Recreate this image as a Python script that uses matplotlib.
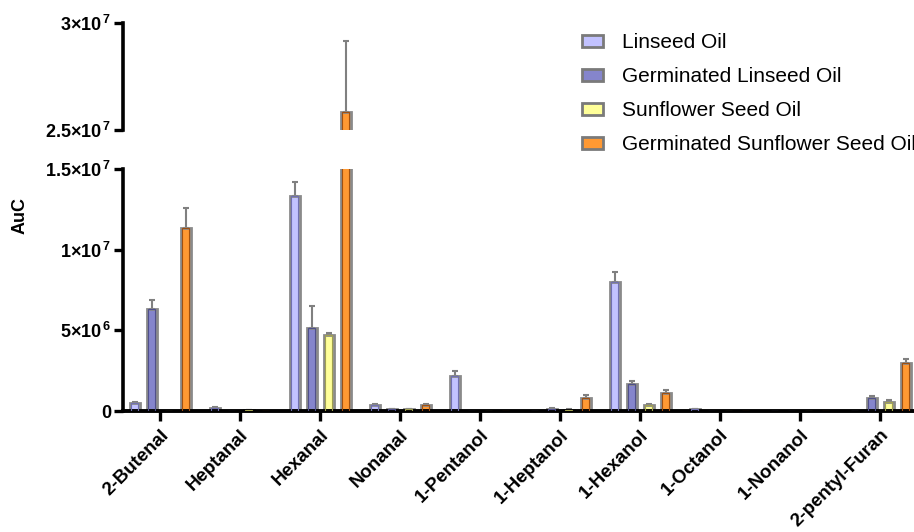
import numpy as np
import matplotlib
matplotlib.use("Agg")
import matplotlib.pyplot as plt
from matplotlib.patches import Patch

plt.rcParams['font.family'] = ['Liberation Sans', 'DejaVu Sans']
plt.rcParams['mathtext.fontset'] = 'custom'
plt.rcParams['mathtext.rm'] = 'Liberation Sans:bold'
plt.rcParams['mathtext.bf'] = 'Liberation Sans:bold'
plt.rcParams['mathtext.it'] = 'Liberation Sans:bold'

# data
categories = ['2-Butenal', 'Heptanal', 'Hexanal', 'Nonanal', '1-Pentanol',
              '1-Heptanol', '1-Hexanol', '1-Octanol', '1-Nonanol', '2-pentyl-Furan']
series_names = ['Linseed Oil', 'Germinated Linseed Oil', 'Sunflower Seed Oil',
                'Germinated Sunflower Seed Oil']
linseed = [0.5e6, 0.2e6, 13.3e6, 0.35e6, 2.2e6, 0.02e6, 8.0e6, 0.1e6, 0.01e6, 0]
linseed_err = [0.08e6, 0.06e6, 0.9e6, 0.08e6, 0.3e6, 0, 0.6e6, 0.05e6, 0, 0]
germ_linseed = [6.3e6, 0, 5.15e6, 0.1e6, 0, 0.1e6, 1.65e6, 0.03e6, 0.01e6, 0.8e6]
germ_linseed_err = [0.6e6, 0, 1.35e6, 0.03e6, 0, 0.1e6, 0.2e6, 0, 0, 0.1e6]
sunflower = [0, 0.05e6, 4.7e6, 0.12e6, 0, 0.05e6, 0.35e6, 0, 0, 0.55e6]
sunflower_err = [0, 0.03e6, 0.15e6, 0.03e6, 0, 0.05e6, 0.08e6, 0, 0, 0.15e6]
germ_sunflower = [11.35e6, 0, 25.85e6, 0.35e6, 0, 0.8e6, 1.1e6, 0, 0, 3.0e6]
germ_sunflower_err = [1.25e6, 0, 3.3e6, 0.1e6, 0, 0.2e6, 0.2e6, 0, 0, 0.2e6]

values = [linseed, germ_linseed, sunflower, germ_sunflower]
errors = [linseed_err, germ_linseed_err, sunflower_err, germ_sunflower_err]
fills = ['#C2C2FF', '#8585CC', '#FFFF99', '#FF9933']
inner = ['#7070B0', '#50508A', '#A0A050', '#A05010']

fig = plt.figure(figsize=(9.14, 5.32), dpi=100)
left, width = 123 / 914, (914 - 123) / 914
ax_low = fig.add_axes([left, 1 - 411 / 532, width, (411 - 169) / 532])
ax_high = fig.add_axes([left, 1 - 130 / 532, width, (130 - 23) / 532])

x = np.arange(len(categories))
step = 0.2125
bw = 0.125
for ax in (ax_low, ax_high):
    for i in range(4):
        pos = x + (i - 1.5) * step
        v = np.array(values[i])
        e = np.array(errors[i])
        ax.errorbar(pos, v, yerr=[np.zeros_like(e), e], fmt='none',
                    ecolor='#808080', elinewidth=1.5, capsize=2.5, capthick=1.5, zorder=1)
        ax.bar(pos, v, width=bw, color=fills[i], edgecolor='#8a8a8a', linewidth=2, zorder=2)
        ax.bar(pos, v, width=bw * 0.7, color='none', edgecolor=inner[i], linewidth=0.8, zorder=3)
    ax.set_xlim(-0.4625, 9.425)
    for s in ('top', 'right'):
        ax.spines[s].set_visible(False)
    ax.spines['left'].set_linewidth(2.6)
    ax.tick_params(axis='y', length=6.5, width=2.4, labelsize=13, pad=2)

ax_low.set_ylim(0, 1.5e7)
ax_low.set_yticks([0, 5e6, 1e7, 1.5e7])
ax_low.set_yticklabels(['0', r'5×10$^{\,6}$', r'1×10$^{\,7}$', r'1.5×10$^{\,7}$'], fontweight='bold')
ax_low.spines['bottom'].set_linewidth(2.8)
ax_low.set_xticks(x)
ax_low.set_xticklabels(categories, rotation=45, ha='right', rotation_mode='anchor',
                       fontsize=13.5, fontweight='bold')
ax_low.tick_params(axis='x', length=7, width=2.4, pad=4)

ax_high.set_ylim(2.5e7, 3e7)
ax_high.set_yticks([2.5e7, 3e7])
ax_high.set_yticklabels([r'2.5×10$^{\,7}$', r'3×10$^{\,7}$'], fontweight='bold')
ax_high.spines['bottom'].set_visible(False)
ax_high.set_xticks([])

fig.text(20 / 914, 1 - 215 / 532, 'AuC', rotation=90, fontsize=13, fontweight='bold',
         ha='center', va='center')

handles = [Patch(facecolor=fills[i], edgecolor='#7a7a7a', linewidth=2) for i in range(4)]
fig.legend(handles, series_names, loc='upper left', bbox_to_anchor=(582 / 914, 1 - 33 / 532),
           frameon=False, fontsize=15, handlelength=1.0, handleheight=0.5,
           labelspacing=0.72, handletextpad=0.9, borderaxespad=0, borderpad=0)

fig.savefig('out.png', dpi=100)
